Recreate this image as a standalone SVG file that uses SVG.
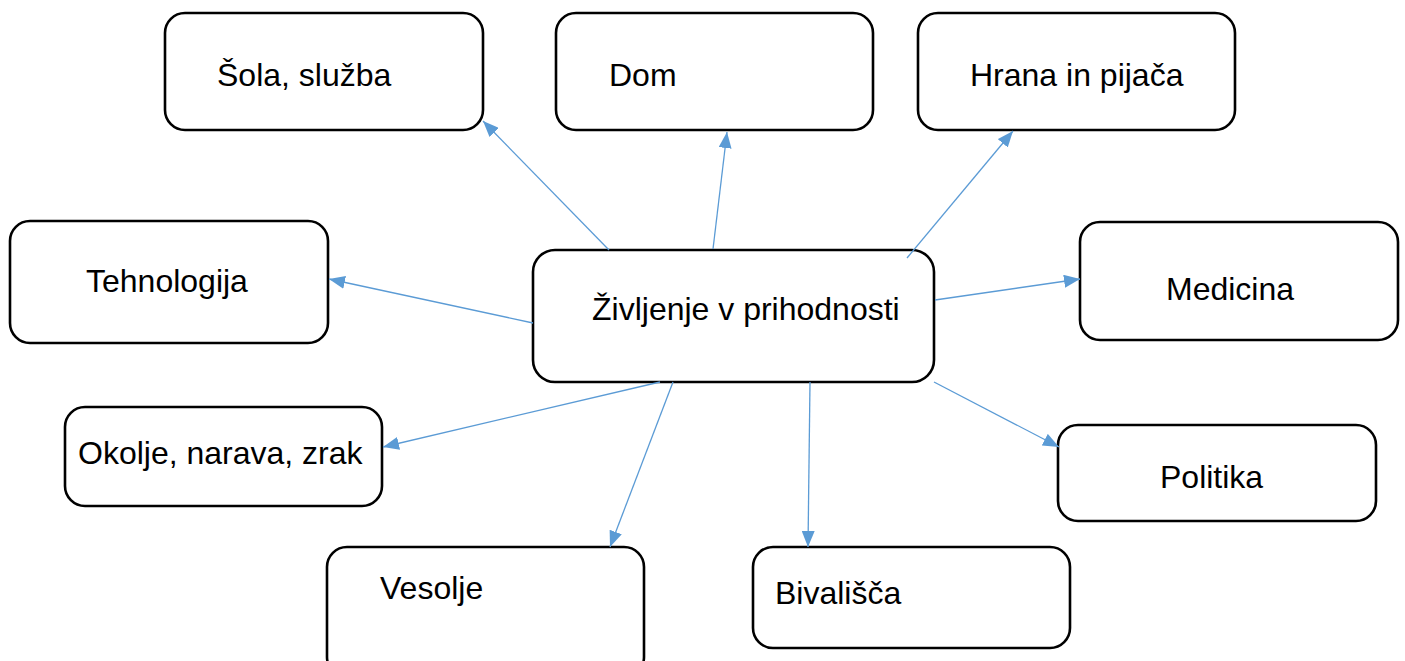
<svg xmlns="http://www.w3.org/2000/svg" width="1405" height="661" viewBox="0 0 1405 661">
<style>
.box{fill:#fff;stroke:#000;stroke-width:2.6}
.t{font-family:"Liberation Sans",Arial,sans-serif;font-size:32px;fill:#000}
.c{stroke:#5B9BD5;stroke-width:1.3;fill:none;marker-end:url(#ah)}
</style>
<defs>
<marker id="ah" markerUnits="userSpaceOnUse" markerWidth="17" markerHeight="13" refX="16" refY="6.5" orient="auto">
<path d="M0,0 L16,6.5 L0,13 Z" fill="#5B9BD5"/>
</marker>
</defs>
<rect width="1405" height="661" fill="#fff"/>
<g id="n-sola"><rect class="box" x="165" y="13" width="318" height="117" rx="20"/><text class="t" x="217" y="86">Šola, služba</text></g>
<g id="n-dom"><rect class="box" x="556" y="13" width="317" height="117" rx="20"/><text class="t" x="609" y="86">Dom</text></g>
<g id="n-hrana"><rect class="box" x="918" y="13" width="317" height="117" rx="20"/><text class="t" x="970" y="86">Hrana in pijača</text></g>
<g id="n-tehnologija"><rect class="box" x="10" y="221" width="318" height="122" rx="20"/><text class="t" x="86" y="292">Tehnologija</text></g>
<g id="n-center"><rect class="box" x="533" y="250" width="401" height="132" rx="22"/><text class="t" x="592" y="320">Življenje v prihodnosti</text></g>
<g id="n-medicina"><rect class="box" x="1080" y="222" width="318" height="118" rx="20"/><text class="t" x="1166" y="300">Medicina</text></g>
<g id="n-okolje"><rect class="box" x="65" y="407" width="317" height="99" rx="20"/><text class="t" x="78" y="464">Okolje, narava, zrak</text></g>
<g id="n-politika"><rect class="box" x="1058" y="425" width="318" height="96" rx="20"/><text class="t" x="1160" y="488">Politika</text></g>
<g id="n-vesolje"><rect class="box" x="327" y="547" width="317" height="130" rx="20"/><text class="t" x="380" y="599">Vesolje</text></g>
<g id="n-bivalisca"><rect class="box" x="753" y="547" width="317" height="101" rx="20"/><text class="t" x="775" y="604">Bivališča</text></g>
<g id="connectors">
<line class="c" x1="609" y1="250" x2="483" y2="121"/>
<line class="c" x1="713" y1="249" x2="727" y2="132"/>
<line class="c" x1="907" y1="258" x2="1013" y2="131"/>
<line class="c" x1="533" y1="323" x2="329" y2="279"/>
<line class="c" x1="935" y1="300" x2="1080" y2="279"/>
<line class="c" x1="660" y1="382" x2="383" y2="447"/>
<line class="c" x1="673" y1="382" x2="610" y2="547"/>
<line class="c" x1="810" y1="382" x2="808" y2="547"/>
<line class="c" x1="934" y1="382" x2="1059" y2="447"/>
</g>
</svg>
